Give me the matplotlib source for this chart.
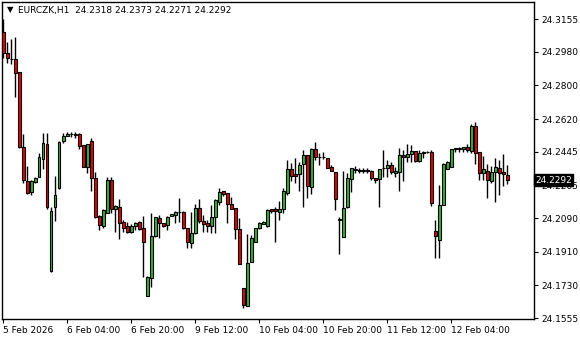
import numpy as np
import matplotlib
matplotlib.use("Agg")
import matplotlib.pyplot as plt

# EURCZK H1 candles (oldest first)
opens = [
	24.3086, 24.2974, 24.2943, 24.2941, 24.2870, 24.2471, 24.2289, 24.2230, 24.2283, 24.2310,
	24.2407, 24.2487, 24.1808, 24.2150, 24.2251, 24.2503, 24.2530, 24.2541, 24.2541, 24.2541,
	24.2480, 24.2364, 24.2503, 24.2305, 24.2101, 24.2048, 24.2118, 24.2294, 24.2139, 24.2150,
	24.2069, 24.2048, 24.2016, 24.2048, 24.2069, 24.2037, 24.1673, 24.1770, 24.1994, 24.2091,
	24.2064, 24.2053, 24.2101, 24.2107, 24.2123, 24.2123, 24.2037, 24.1957, 24.2011, 24.2144,
	24.2075, 24.2064, 24.2048, 24.2096, 24.2176, 24.2233, 24.2224, 24.2166, 24.2142, 24.2032,
	24.1714, 24.1620, 24.1856, 24.1962, 24.2037, 24.2059, 24.2048, 24.2137, 24.2139, 24.2123,
	24.2139, 24.2225, 24.2353, 24.2326, 24.2326, 24.2380, 24.2428, 24.2257, 24.2460, 24.2417,
	24.2417, 24.2412, 24.2364, 24.2337, 24.2085, 24.1989, 24.2150, 24.2299, 24.2348, 24.2342,
	24.2345, 24.2342, 24.2342, 24.2305, 24.2299, 24.2358, 24.2358, 24.2374, 24.2331, 24.2337,
	24.2428, 24.2417, 24.2433, 24.2449, 24.2396, 24.2439, 24.2444, 24.2444, 24.2021, 24.1973,
	24.2160, 24.2353, 24.2364, 24.2460, 24.2460, 24.2460, 24.2471, 24.2449, 24.2583, 24.2442,
	24.2331, 24.2342, 24.2289, 24.2337, 24.2358, 24.2337, 24.2318,
]
highs = [
	24.3155, 24.3032, 24.3049, 24.3060, 24.2872, 24.2541, 24.2369, 24.2294, 24.2310, 24.2439,
	24.2546, 24.2546, 24.2150, 24.2316, 24.2503, 24.2546, 24.2551, 24.2551, 24.2551, 24.2546,
	24.2482, 24.2487, 24.2519, 24.2337, 24.2107, 24.2139, 24.2310, 24.2310, 24.2160, 24.2192,
	24.2080, 24.2069, 24.2059, 24.2069, 24.2075, 24.2101, 24.1780, 24.2118, 24.2096, 24.2107,
	24.2066, 24.2101, 24.2112, 24.2129, 24.2198, 24.2129, 24.2039, 24.2123, 24.2166, 24.2192,
	24.2107, 24.2080, 24.2160, 24.2192, 24.2251, 24.2235, 24.2225, 24.2203, 24.2144, 24.2091,
	24.1716, 24.2005, 24.2000, 24.2037, 24.2069, 24.2075, 24.2139, 24.2139, 24.2150, 24.2182,
	24.2251, 24.2401, 24.2385, 24.2412, 24.2391, 24.2455, 24.2430, 24.2465, 24.2497, 24.2439,
	24.2444, 24.2414, 24.2374, 24.2339, 24.2096, 24.2342, 24.2331, 24.2358, 24.2369, 24.2358,
	24.2358, 24.2358, 24.2348, 24.2307, 24.2353, 24.2455, 24.2401, 24.2391, 24.2364, 24.2465,
	24.2455, 24.2487, 24.2481, 24.2451, 24.2455, 24.2449, 24.2449, 24.2455, 24.2080, 24.2267,
	24.2385, 24.2396, 24.2460, 24.2465, 24.2471, 24.2471, 24.2487, 24.2594, 24.2604, 24.2444,
	24.2422, 24.2380, 24.2369, 24.2412, 24.2401, 24.2433, 24.2373,
]
lows = [
	24.2947, 24.2920, 24.2915, 24.2739, 24.2465, 24.2278, 24.2220, 24.2214, 24.2278, 24.2308,
	24.2353, 24.2139, 24.1802, 24.2075, 24.2246, 24.2492, 24.2528, 24.2524, 24.2519, 24.2460,
	24.2362, 24.2331, 24.2235, 24.2091, 24.2027, 24.2037, 24.2116, 24.2118, 24.2016, 24.1978,
	24.2016, 24.2011, 24.2011, 24.2027, 24.2027, 24.1775, 24.1671, 24.1722, 24.1989, 24.1984,
	24.2043, 24.2027, 24.2099, 24.2064, 24.2069, 24.2032, 24.1930, 24.1930, 24.2005, 24.2064,
	24.2016, 24.2016, 24.2011, 24.2011, 24.2160, 24.2208, 24.2064, 24.2137, 24.1978, 24.1843,
	24.1609, 24.1618, 24.1854, 24.1960, 24.2032, 24.2057, 24.2043, 24.2118, 24.1962, 24.2080,
	24.2118, 24.2214, 24.2289, 24.2278, 24.2235, 24.2150, 24.2198, 24.2219, 24.2401, 24.2374,
	24.2407, 24.2356, 24.2340, 24.2134, 24.1898, 24.1987, 24.2144, 24.2230, 24.2331, 24.2331,
	24.2331, 24.2331, 24.2294, 24.2278, 24.2150, 24.2310, 24.2310, 24.2326, 24.2310, 24.2235,
	24.2289, 24.2391, 24.2391, 24.2391, 24.2391, 24.2412, 24.2439, 24.2155, 24.1877, 24.1877,
	24.2158, 24.2351, 24.2362, 24.2444, 24.2444, 24.2444, 24.2444, 24.2439, 24.2380, 24.2294,
	24.2294, 24.2198, 24.2278, 24.2176, 24.2214, 24.2262, 24.2271,
]
closes = [
	24.2974, 24.2947, 24.2941, 24.2867, 24.2471, 24.2294, 24.2225, 24.2289, 24.2305, 24.2417,
	24.2492, 24.2150, 24.2129, 24.2214, 24.2497, 24.2530, 24.2541, 24.2541, 24.2535, 24.2476,
	24.2364, 24.2487, 24.2305, 24.2096, 24.2053, 24.2134, 24.2294, 24.2139, 24.2155, 24.2064,
	24.2037, 24.2016, 24.2048, 24.2064, 24.2032, 24.1962, 24.1775, 24.1994, 24.2096, 24.2064,
	24.2048, 24.2096, 24.2112, 24.2123, 24.2123, 24.2037, 24.1962, 24.2011, 24.2144, 24.2075,
	24.2059, 24.2048, 24.2096, 24.2187, 24.2230, 24.2219, 24.2166, 24.2139, 24.2032, 24.1845,
	24.1625, 24.1850, 24.1984, 24.2037, 24.2064, 24.2069, 24.2134, 24.2129, 24.2129, 24.2139,
	24.2235, 24.2353, 24.2316, 24.2316, 24.2375, 24.2428, 24.2262, 24.2460, 24.2417, 24.2417,
	24.2415, 24.2358, 24.2342, 24.2192, 24.2080, 24.2144, 24.2305, 24.2358, 24.2350, 24.2348,
	24.2343, 24.2348, 24.2305, 24.2294, 24.2353, 24.2358, 24.2374, 24.2337, 24.2342, 24.2428,
	24.2417, 24.2433, 24.2449, 24.2396, 24.2439, 24.2444, 24.2442, 24.2171, 24.1994, 24.2160,
	24.2380, 24.2391, 24.2460, 24.2465, 24.2465, 24.2471, 24.2455, 24.2583, 24.2439, 24.2331,
	24.2353, 24.2294, 24.2337, 24.2364, 24.2331, 24.2326, 24.2292,
]

price_ticks = [24.3155, 24.2980, 24.2800, 24.2620, 24.2445, 24.2265, 24.2090, 24.1910, 24.1730, 24.1555]
time_ticks = [0, 16, 32, 48, 64, 80, 96, 112]
time_labels = ["5 Feb 2026", "6 Feb 04:00", "6 Feb 20:00", "9 Feb 12:00",
			   "10 Feb 04:00", "10 Feb 20:00", "11 Feb 12:00", "12 Feb 04:00"]
symbol = "EURCZK,H1"

FS = 6.5

o = np.array(opens)
h = np.array(highs)
l = np.array(lows)
c = np.array(closes)
x = np.arange(len(o))

fig = plt.figure(figsize=(5.8, 3.4), dpi=100)
ax = fig.add_axes([2 / 580, 21 / 340, 532 / 580, 317 / 340])

ax.vlines(x, l, h, color="black", linewidth=1, zorder=2)
colors = np.where(c >= o, "#32b432", "#e60000")
ax.bar(x, np.maximum(np.abs(c - o), 0.00002), bottom=np.minimum(o, c), width=0.6,
	   color=colors, edgecolor="black", linewidth=0.8, zorder=3)

ax.set_xlim(-0.325, 132.675)
ax.set_ylim(24.1550, 24.3246)

for s in ax.spines.values():
	s.set_linewidth(1)
	s.set_color("black")

ax.yaxis.tick_right()
ax.set_yticks(price_ticks)
ax.set_yticklabels([f"{v:.4f}" for v in price_ticks])
ax.tick_params(axis="y", direction="out", length=3, width=0.8, labelsize=FS, pad=2)

ax.set_xticks(time_ticks)
ax.set_xticklabels(time_labels)
ax.tick_params(axis="x", direction="out", length=3, width=0.8, labelsize=FS, pad=2)
for lbl in ax.get_xticklabels():
	lbl.set_horizontalalignment("left")

# current price marker on the right axis (covers the 24.2265 label as in MT4)
ax.text(1.002, closes[-1], f"{closes[-1]:.4f}", transform=ax.get_yaxis_transform(),
		ha="left", va="center", fontsize=FS, color="white", zorder=10, clip_on=False,
		bbox=dict(boxstyle="square,pad=0.15", facecolor="black", edgecolor="black"))

# header
fig.text(7 / 580, 1 - 10 / 340, "\u25bc", fontsize=6, va="center", ha="left")
header = f"{symbol}  {opens[-1]:.4f} {highs[-1]:.4f} {lows[-1]:.4f} {closes[-1]:.4f}"
fig.text(18 / 580, 1 - 10 / 340, header, fontsize=FS, va="center", ha="left")

fig.savefig("out.png", dpi=100)
